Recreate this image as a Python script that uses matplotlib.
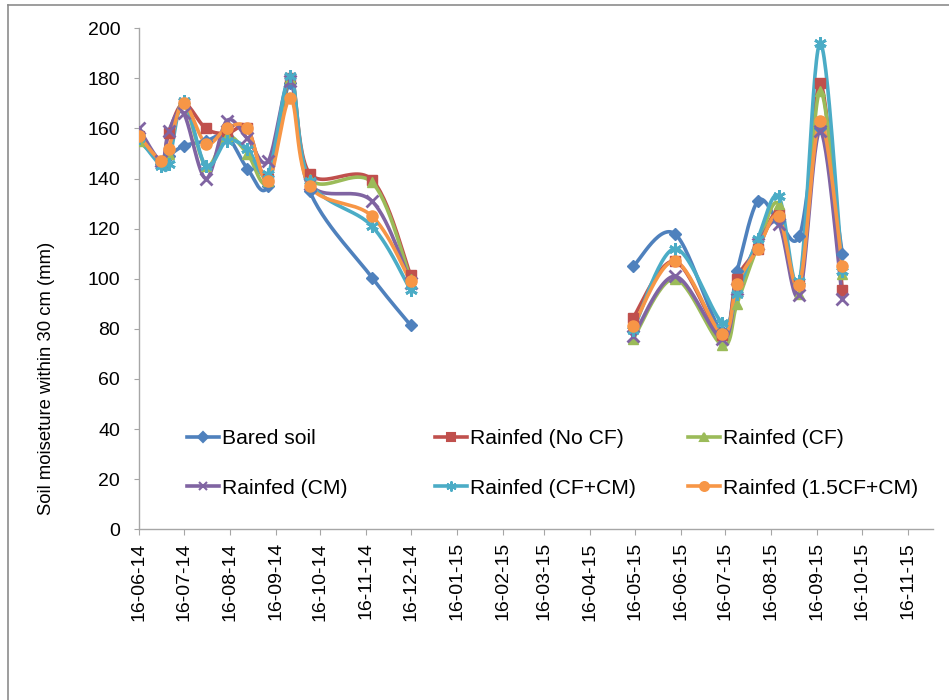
import numpy as np
import matplotlib
matplotlib.use("Agg")
import matplotlib.pyplot as plt
import matplotlib.dates as mdates
from matplotlib.lines import Line2D
from matplotlib.legend import Legend
import datetime as dt

plt.rcParams['font.family'] = ['Liberation Sans', 'DejaVu Sans']

# Sampling dates (two growing seasons)
dates = ['2014-06-16', '2014-07-01', '2014-07-06', '2014-07-16', '2014-07-31',
         '2014-08-14', '2014-08-28', '2014-09-11', '2014-09-26', '2014-10-09',
         '2014-11-20', '2014-12-16',
         '2015-05-15', '2015-06-12', '2015-07-14', '2015-07-24', '2015-08-07',
         '2015-08-21', '2015-09-04', '2015-09-18', '2015-10-03']

# Soil moisture within 30 cm (mm)
bared_soil = [156, 146, 149, 153, 155, 157, 144, 137, 178, 135, 100.5, 81.5,
              105, 118, 79, 103, 131, 123, 117, 160, 110]
rainfed_no_cf = [157, 147, 158, 170, 160, 158, 160, 140, 180, 142, 139.5, 101.5,
                 84.5, 107, 77.5, 100, 112, 126, 98, 178, 95.5]
rainfed_cf = [155, 147, 150, 170, 145, 157, 150, 139, 180, 140, 138.5, 100,
              76, 100, 73.5, 90, 113, 130, 94, 175, 102]
rainfed_cm = [160, 147, 159, 166, 140, 163, 156, 147, 179, 138, 131, 98.5,
              77, 101, 76, 96, 114, 122, 93.5, 159, 92]
rainfed_cf_cm = [156, 145, 146, 171, 145, 155, 152, 142, 181, 139, 121, 95.5,
                 79.5, 112, 82.5, 94, 116, 133, 99, 194, 103]
rainfed_15cf_cm = [157, 147, 152, 170, 154, 160, 160, 139, 172, 137, 125, 99,
                   81, 107, 78, 98, 112, 125, 97.5, 163, 105]

series_names = ['Bared soil', 'Rainfed (No CF)', 'Rainfed (CF)',
                'Rainfed (CM)', 'Rainfed (CF+CM)', 'Rainfed (1.5CF+CM)']
series_values = [bared_soil, rainfed_no_cf, rainfed_cf,
                 rainfed_cm, rainfed_cf_cm, rainfed_15cf_cm]
colors = ['#4F81BD', '#C0504D', '#9BBB59', '#8064A2', '#4BACC6', '#F79646']
markers = ['D', 's', '^', 'x', (6, 2, 0), 'o']
msizes = [6, 7, 7.5, 8, 9, 8]

x_dates = mdates.date2num([dt.datetime.strptime(d, '%Y-%m-%d') for d in dates])

fig = plt.figure(figsize=(9.49, 7.0), dpi=100)
ax = fig.add_axes([0.1465, 0.2439, 0.8365, 0.7157])

xmin = mdates.date2num(dt.datetime(2014, 6, 16))
xmax = mdates.date2num(dt.datetime(2015, 12, 3))
ymin, ymax = 0, 200
ax.set_xlim(xmin, xmax)
ax.set_ylim(ymin, ymax)

fig.canvas.draw()
bbox = ax.get_window_extent()
sx = bbox.width / (xmax - xmin)
sy = bbox.height / (ymax - ymin)


def smooth(xs, ys, n=30):
    """Bezier smoothing done in screen space (Catmull-Rom style control points)."""
    px = (np.asarray(xs) - xmin) * sx
    py = np.asarray(ys, dtype=float) * sy
    pts = np.column_stack([px, py])
    m = len(pts)
    out = [pts[0]]
    for i in range(m - 1):
        p0 = pts[i - 1] if i > 0 else pts[i]
        p1 = pts[i]
        p2 = pts[i + 1]
        p3 = pts[i + 2] if i + 2 < m else pts[i + 1]
        c1 = p1 + (p2 - p0) / 6.0
        c2 = p2 - (p3 - p1) / 6.0
        t = np.linspace(0, 1, n)[1:, None]
        seg = ((1 - t) ** 3) * p1 + 3 * ((1 - t) ** 2) * t * c1 + \
            3 * (1 - t) * t ** 2 * c2 + t ** 3 * p2
        out.extend(seg)
    out = np.array(out)
    return out[:, 0] / sx + xmin, out[:, 1] / sy


# split into seasons where sampling gap is long
breaks = [0] + [i + 1 for i in range(len(x_dates) - 1)
                if x_dates[i + 1] - x_dates[i] > 90] + [len(x_dates)]

for name, vals, c, mk, ms in zip(series_names, series_values, colors, markers, msizes):
    vals = np.asarray(vals, dtype=float)
    mew = 2 if (mk == 'x' or isinstance(mk, tuple)) else 1
    for a, b in zip(breaks[:-1], breaks[1:]):
        cx, cy = smooth(x_dates[a:b], vals[a:b])
        ax.plot(cx, cy, color=c, lw=2.6, solid_capstyle='round', zorder=2)
        ax.plot(x_dates[a:b], vals[a:b], linestyle='none', marker=mk,
                markersize=ms, color=c, markeredgecolor=c, markeredgewidth=mew,
                zorder=3)

# axes styling
for s in ['top', 'right']:
    ax.spines[s].set_visible(False)
for s in ['left', 'bottom']:
    ax.spines[s].set_color('#A6A6A6')
    ax.spines[s].set_linewidth(1.0)

ax.set_yticks(np.arange(0, 201, 20))
ax.tick_params(axis='y', direction='out', length=3.6, color='#A6A6A6',
               labelsize=14, pad=10)
month_ticks = [dt.datetime(2014 + (5 + k) // 12, (5 + k) % 12 + 1, 16) for k in range(18)]
ax.set_xticks(mdates.date2num(month_ticks))
ax.xaxis.set_major_formatter(mdates.DateFormatter('%d-%m-%y'))
ax.tick_params(axis='x', direction='out', length=4.3, color='#A6A6A6',
               labelsize=14, labelrotation=90, pad=5)

fig.text(47 / 949, 1 - 378 / 700, 'Soil moiseture within 30 cm (mm)',
         rotation=90, ha='center', va='center', fontsize=13.3)

# legend, three columns of two entries
handles = [Line2D([0], [0], color=c, lw=2.6, marker=mk, markersize=ms * 0.8,
                  markeredgecolor=c, markeredgewidth=1.5)
           for c, mk, ms in zip(colors, markers, msizes)]
col_px = [187, 435, 688]
for k in range(3):
    idx = [k, k + 3]
    leg = Legend(ax, [handles[i] for i in idx], [series_names[i] for i in idx],
                 loc='upper left',
                 bbox_to_anchor=((col_px[k] - bbox.x0) / bbox.width, 0.200),
                 frameon=False, fontsize=15.2, handlelength=1.5,
                 handletextpad=0.15, labelspacing=1.45, borderpad=0,
                 borderaxespad=0)
    ax.add_artist(leg)

# outer chart frame
fig.add_artist(Line2D([8 / 949, 8 / 949], [0, 1 - 5 / 700], color='#8C8C8C', lw=1.2,
                      transform=fig.transFigure))
fig.add_artist(Line2D([8 / 949, 1], [1 - 5 / 700, 1 - 5 / 700], color='#8C8C8C', lw=1.2,
                      transform=fig.transFigure))

fig.savefig('out.png', dpi=100)
